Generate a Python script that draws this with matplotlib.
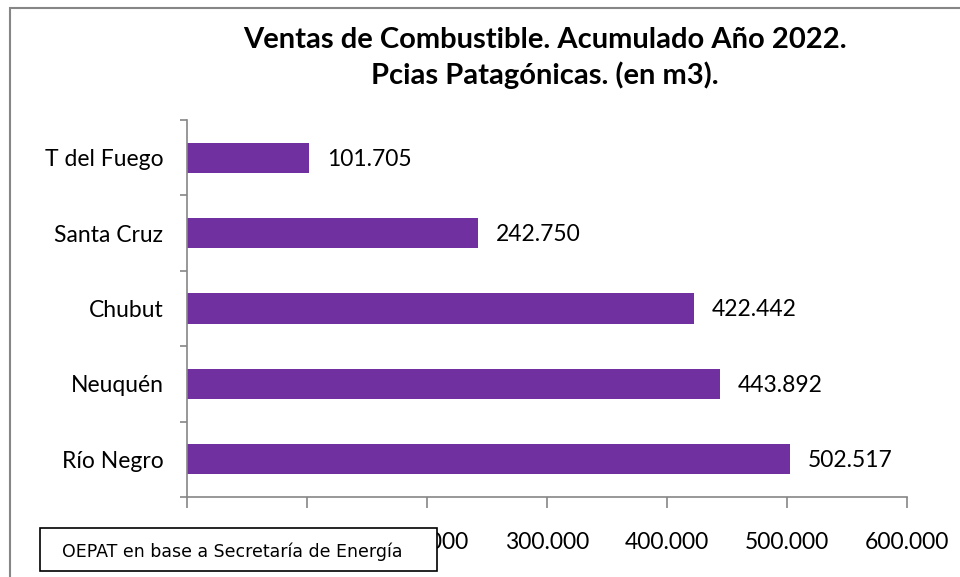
import matplotlib
matplotlib.use("Agg")
import matplotlib.pyplot as plt
from matplotlib.patches import Rectangle

# datos (m3), de abajo hacia arriba
provincias = ["Río Negro", "Neuquén", "Chubut", "Santa Cruz", "T del Fuego"]
ventas = [502517, 443892, 422442, 242750, 101705]
ticks_x = [0, 100000, 200000, 300000, 400000, 500000, 600000]

TITULO = "Ventas de Combustible. Acumulado Año 2022.\nPcias Patagónicas. (en m3)."
FUENTE = "OEPAT en base a Secretaría de Energía"

VIOLETA = "#7030A0"
GRIS = "#868686"

plt.rcParams["font.family"] = ["Lato", "DejaVu Sans"]


def miles(v):
    return f"{v:,.0f}".replace(",", ".")


fig = plt.figure(figsize=(9.6, 5.77), dpi=100)
W, H = 960, 577

# marco exterior del grafico
fig.patches.append(Rectangle((10 / W, -0.5), 2, 1.5 - 8 / H, transform=fig.transFigure,
                             fill=False, edgecolor=GRIS, linewidth=1.5, zorder=0))

ax = fig.add_axes([187 / W, 1 - 497 / H, 720 / W, 377 / H])
pos = list(range(len(provincias)))
ax.barh(pos, ventas, height=0.4, color=VIOLETA)

for p, v in zip(pos, ventas):
    ax.annotate(miles(v), (v, p), xytext=(13, -1), textcoords="offset points",
                va="center", ha="left", fontsize=16.5)

ax.set_xlim(0, 600000)
ax.set_ylim(-0.5, len(provincias) - 0.5)
ax.set_xticks(ticks_x)
ax.set_xticklabels([miles(t) for t in ticks_x], fontsize=16.5)

# marcas del eje y entre categorias, etiquetas al centro
ax.set_yticks([i - 0.5 for i in range(len(provincias) + 1)])
ax.set_yticklabels([])
ax.set_yticks(pos, minor=True)
ax.set_yticklabels(provincias, minor=True, fontsize=16.5)
ax.tick_params(axis="y", which="major", length=5, color=GRIS, width=1.2)
ax.tick_params(axis="y", which="minor", length=0, pad=17)
ax.tick_params(axis="x", length=8, color=GRIS, width=1.2, pad=17)

for s in ["top", "right"]:
    ax.spines[s].set_visible(False)
for s in ["left", "bottom"]:
    ax.spines[s].set_color(GRIS)
    ax.spines[s].set_linewidth(1.2)

fig.text(545 / W, 1 - 58 / H, TITULO, ha="center", va="center",
         fontsize=21, fontweight="bold", linespacing=1.35)

# recuadro de la fuente (tapa las primeras etiquetas del eje, como en el original)
fig.patches.append(Rectangle((40 / W, 1 - 571 / H), 397 / W, 43 / H, transform=fig.transFigure,
                             facecolor="white", edgecolor="black", linewidth=1.2, zorder=5))
fig.text(62 / W, 1 - 552 / H, FUENTE, ha="left", va="center", fontsize=12.5,
         family=["Liberation Sans Narrow", "DejaVu Sans"], zorder=6)

fig.savefig("out.png", dpi=100)
